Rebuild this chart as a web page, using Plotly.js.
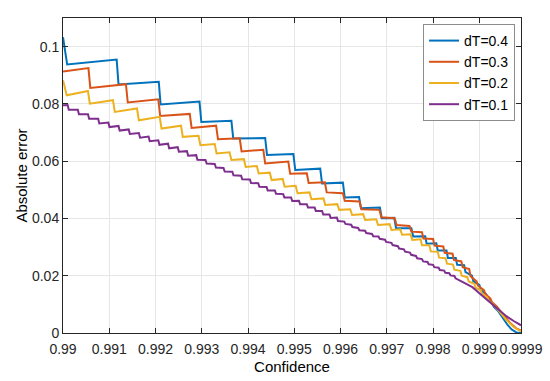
<!DOCTYPE html>
<html>
<head>
<meta charset="utf-8">
<script src="https://cdn.plot.ly/plotly-3.0.1.min.js"></script>
<style>html,body{margin:0;padding:0;background:#fff;}#chart{width:550px;height:381px;}</style>
</head>
<body>
<div id="chart"></div>
<script>
// Series names
const seriesNames = ["dT=0.4", "dT=0.3", "dT=0.2", "dT=0.1"];

// dT = 0.4
const xDT04 = [0.99, 0.99009, 0.99116, 0.9912, 0.99207, 0.99211, 0.99295, 0.99299, 0.99364, 0.99368,
  0.99437, 0.99441, 0.99498, 0.99502, 0.99556, 0.9956, 0.99605, 0.99609, 0.9964, 0.99644,
  0.99685, 0.99689, 0.99716, 0.9972, 0.99753, 0.99757, 0.99783, 0.99786, 0.99807, 0.9981,
  0.99829, 0.99832, 0.99849, 0.99852, 0.99867, 0.9987, 0.99884, 0.99887, 0.999, 0.99903,
  0.99915, 0.99918, 0.99928, 0.99931, 0.9994, 0.9995, 0.99961, 0.9997, 0.9998, 0.9999];
const yDT04 = [0.1033, 0.0938, 0.0955, 0.0868, 0.0877, 0.0798, 0.0808, 0.0737, 0.0741, 0.0679,
  0.0681, 0.0622, 0.0625, 0.0569, 0.0574, 0.0522, 0.0525, 0.0473, 0.0475, 0.0436,
  0.0438, 0.0401, 0.0402, 0.0366, 0.0366, 0.0337, 0.0338, 0.0312, 0.0313, 0.0288,
  0.0288, 0.0262, 0.0262, 0.0238, 0.0237, 0.0213, 0.0200, 0.0180, 0.0168, 0.0150,
  0.0135, 0.0120, 0.0104, 0.0092, 0.0078, 0.0055, 0.0028, 0.0012, 0.0002, 0.0];

// dT = 0.3
const xDT03 = [0.99, 0.99055, 0.99059, 0.99136, 0.9914, 0.99206, 0.9921, 0.99274, 0.99278, 0.99331,
  0.99335, 0.99382, 0.99386, 0.99433, 0.99437, 0.99487, 0.99491, 0.99527, 0.99531, 0.99566,
  0.9957, 0.99605, 0.99609, 0.99641, 0.99645, 0.99684, 0.99688, 0.99717, 0.99721, 0.99749,
  0.99753, 0.99776, 0.99779, 0.998, 0.99803, 0.99822, 0.99825, 0.99842, 0.99845, 0.99861,
  0.99864, 0.99878, 0.99881, 0.99894, 0.99897, 0.9991, 0.99913, 0.99924, 0.99927, 0.99937,
  0.9995, 0.99965, 0.9998, 0.9999];
const yDT03 = [0.0913, 0.0925, 0.0856, 0.0869, 0.0805, 0.0816, 0.0758, 0.0765, 0.0716, 0.0724,
  0.0677, 0.0680, 0.0634, 0.0640, 0.0592, 0.0599, 0.0556, 0.0558, 0.0524, 0.0526,
  0.0491, 0.0488, 0.0462, 0.0459, 0.0432, 0.0430, 0.0404, 0.0401, 0.0377, 0.0374,
  0.0354, 0.0352, 0.0330, 0.0328, 0.0305, 0.0302, 0.0280, 0.0277, 0.0255, 0.0250,
  0.0230, 0.0223, 0.0198, 0.0180, 0.0165, 0.0150, 0.0136, 0.0120, 0.0108, 0.0094,
  0.0068, 0.0038, 0.0016, 0.0008];

// dT = 0.2
const xDT02 = [0.99, 0.99008, 0.99054, 0.99058, 0.99108, 0.99112, 0.9916, 0.99164, 0.99209, 0.99213,
  0.99255, 0.99259, 0.99293, 0.99297, 0.99328, 0.99332, 0.9936, 0.99364, 0.99391, 0.99395,
  0.99419, 0.99423, 0.99447, 0.99451, 0.99475, 0.99479, 0.99503, 0.99507, 0.99533, 0.99537,
  0.99563, 0.99567, 0.99593, 0.99597, 0.99621, 0.99625, 0.99649, 0.99653, 0.99677, 0.99681,
  0.99706, 0.9971, 0.99729, 0.99733, 0.99751, 0.99755, 0.99773, 0.99776, 0.99792, 0.99795,
  0.9981, 0.99813, 0.99827, 0.9983, 0.99843, 0.99846, 0.99859, 0.99862, 0.99874, 0.99877,
  0.99889, 0.99892, 0.99903, 0.99906, 0.99917, 0.9992, 0.99928, 0.9994, 0.99958, 0.99975,
  0.9999];
const yDT02 = [0.0883, 0.0830, 0.0845, 0.0801, 0.0813, 0.0772, 0.0784, 0.0743, 0.0755, 0.0714,
  0.0724, 0.0685, 0.0689, 0.0656, 0.0660, 0.0627, 0.0631, 0.0604, 0.0607, 0.0580,
  0.0583, 0.0557, 0.0560, 0.0534, 0.0538, 0.0511, 0.0514, 0.0488, 0.0491, 0.0467,
  0.0470, 0.0447, 0.0450, 0.0430, 0.0432, 0.0412, 0.0415, 0.0395, 0.0397, 0.0377,
  0.0380, 0.0360, 0.0362, 0.0343, 0.0345, 0.0325, 0.0327, 0.0306, 0.0306, 0.0285,
  0.0284, 0.0263, 0.0261, 0.0242, 0.0239, 0.0221, 0.0217, 0.0200, 0.0195, 0.0180,
  0.0172, 0.0158, 0.0149, 0.0136, 0.0124, 0.0113, 0.0102, 0.0082, 0.0046, 0.0020,
  0.0006];

// dT = 0.1
const xDT01 = [0.99,
  0.9901, 0.990125, 0.99032, 0.990345, 0.99054, 0.990565, 0.99076, 0.990785, 0.99098, 0.991005,
  0.9912, 0.991225, 0.99142, 0.991445, 0.99164, 0.991665, 0.99185, 0.991875, 0.99206, 0.992085,
  0.99227, 0.992295, 0.99248, 0.992505, 0.99268, 0.992705, 0.99288, 0.992905, 0.99308, 0.993105,
  0.99328, 0.993305, 0.99347, 0.993495, 0.99366, 0.993685, 0.99385, 0.993875, 0.99404, 0.994065,
  0.99422, 0.994245, 0.9944, 0.994425, 0.99458, 0.994605, 0.99476, 0.994785, 0.99493, 0.994955,
  0.9951, 0.995125, 0.99527, 0.995295, 0.99544, 0.995465, 0.9956, 0.995625, 0.99576, 0.995785,
  0.99592, 0.995945, 0.99608, 0.996105, 0.99623, 0.996255, 0.99638, 0.996405, 0.99653, 0.996555,
  0.99668, 0.996705, 0.99682, 0.996845, 0.99696, 0.996985, 0.9971, 0.997125, 0.99724, 0.997265,
  0.99737, 0.997395, 0.9975, 0.997525, 0.99763, 0.997655, 0.99776, 0.997785, 0.99788, 0.997905,
  0.998, 0.998025, 0.99812, 0.998145, 0.99824, 0.998265, 0.99835, 0.998375, 0.99846, 0.998485,
  0.99865, 0.99885, 0.99905, 0.99928, 0.99945, 0.99959, 0.99975, 0.9999];
const yDT01 = [0.0795,
  0.0796, 0.0780, 0.0780, 0.0764, 0.0764, 0.0748, 0.0748, 0.0732, 0.0735, 0.0719,
  0.0723, 0.0707, 0.0711, 0.0695, 0.0698, 0.0682, 0.0686, 0.0670, 0.0673, 0.0657,
  0.0661, 0.0645, 0.0649, 0.0633, 0.0635, 0.0619, 0.0621, 0.0605, 0.0604, 0.0592,
  0.0590, 0.0578, 0.0576, 0.0564, 0.0563, 0.0551, 0.0549, 0.0537, 0.0536, 0.0524,
  0.0523, 0.0511, 0.0510, 0.0498, 0.0498, 0.0486, 0.0485, 0.0473, 0.0473, 0.0461,
  0.0462, 0.0450, 0.0450, 0.0438, 0.0438, 0.0426, 0.0426, 0.0414, 0.0414, 0.0402,
  0.0403, 0.0391, 0.0389, 0.0381, 0.0378, 0.0370, 0.0367, 0.0359, 0.0357, 0.0349,
  0.0346, 0.0338, 0.0337, 0.0329, 0.0326, 0.0318, 0.0315, 0.0307, 0.0303, 0.0295,
  0.0292, 0.0284, 0.0281, 0.0273, 0.0269, 0.0261, 0.0258, 0.0250, 0.0248, 0.0240,
  0.0238, 0.0230, 0.0228, 0.0220, 0.0218, 0.0210, 0.0209, 0.0201, 0.0199, 0.0191,
  0.0178, 0.0160, 0.0132, 0.0099, 0.0076, 0.0058, 0.0041, 0.0027];

// Axis ticks
const xTickVals = [0.99, 0.991, 0.992, 0.993, 0.994, 0.995, 0.996, 0.997, 0.998, 0.999, 0.9999];
const xTickText = ["0.99", "0.991", "0.992", "0.993", "0.994", "0.995", "0.996", "0.997", "0.998", "0.999", "0.9999"];
const yTickVals = [0, 0.02, 0.04, 0.06, 0.08, 0.1];
const yTickText = ["0", "0.02", "0.04", "0.06", "0.08", "0.1"];

const colors = ["#0072BD", "#D95319", "#EDB120", "#7E2F8E"];
const xs = [xDT04, xDT03, xDT02, xDT01];
const ys = [yDT04, yDT03, yDT02, yDT01];

const traces = seriesNames.map((name, i) => ({
  x: xs[i], y: ys[i], name: name, type: "scatter", mode: "lines",
  line: {color: colors[i], width: 2}
}));

const FONT = "Liberation Sans, Arial, Helvetica, sans-serif";
const axisCommon = {
  ticks: "inside", ticklen: 5, tickwidth: 1, tickcolor: "#262626",
  showline: true, linecolor: "#262626", linewidth: 1, mirror: "ticks",
  showgrid: true, gridcolor: "#e6e6e6", gridwidth: 1, zeroline: false,
  tickfont: {family: FONT, size: 14, color: "#262626"}
};

const layout = {
  width: 550, height: 381,
  margin: {l: 63, r: 29, t: 18, b: 48},
  paper_bgcolor: "#ffffff", plot_bgcolor: "#ffffff",
  font: {family: FONT, color: "#262626"},
  showlegend: true,
  legend: {
    x: 0.987, y: 0.981, xanchor: "right", yanchor: "top",
    bgcolor: "#ffffff", bordercolor: "#8c8c8c", borderwidth: 1,
    font: {family: FONT, size: 14, color: "#000000"}, tracegroupgap: 0
  },
  xaxis: Object.assign({}, axisCommon, {
    range: [0.99, 0.9999], tickmode: "array", tickvals: xTickVals, ticktext: xTickText,
    ticklabelstandoff: 3,
    title: {text: "Confidence", font: {family: FONT, size: 15, color: "#000000"}, standoff: 5}
  }),
  yaxis: Object.assign({}, axisCommon, {
    range: [0, 0.11], tickmode: "array", tickvals: yTickVals, ticktext: yTickText,
    title: {text: "Absolute error", font: {family: FONT, size: 15, color: "#000000"}, standoff: 0}
  })
};

Plotly.newPlot("chart", traces, layout, {displayModeBar: false, staticPlot: true});
</script>
</body>
</html>
